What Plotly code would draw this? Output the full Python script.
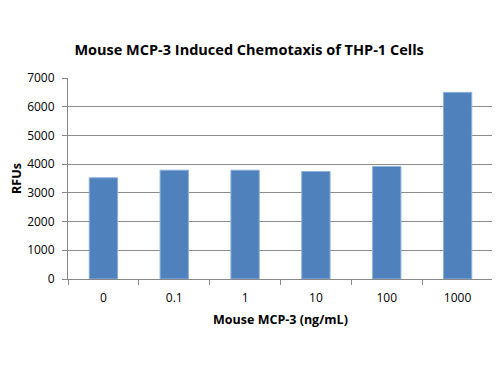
import plotly.graph_objects as go

categories = ["0", "0.1", "1", "10", "100", "1000"]
rfus = [3525, 3790, 3790, 3745, 3920, 6500]
y_ticks = [0, 1000, 2000, 3000, 4000, 5000, 6000, 7000]

fig = go.Figure()
fig.add_trace(go.Bar(
    x=categories, y=rfus,
    marker=dict(color="#4F81BD", line=dict(color="#8DB0DB", width=1)),
    width=0.4,
))

fig.update_layout(
    width=492, height=367,
    margin=dict(l=60, r=7, t=70, b=96, autoexpand=False),
    paper_bgcolor="white", plot_bgcolor="white",
    showlegend=False,
    font=dict(family="Open Sans, Liberation Sans, sans-serif", color="#000000", size=12),
    title=dict(
        text="<b>Mouse MCP-3 Induced Chemotaxis of THP-1 Cells</b>",
        xref="container", x=0.49, xanchor="center",
        yref="container", y=0.886, yanchor="middle",
        font=dict(size=14.5, color="#000000"),
        automargin=False,
    ),
    xaxis=dict(
        type="category", automargin=False,
        showline=True, linecolor="#888888", linewidth=1,
        ticks="outside", ticklen=5, tickcolor="#888888",
        tickson="boundaries",
        ticklabelstandoff=8,
        showgrid=False,
        tickfont=dict(size=12),
        title=dict(text="<b>Mouse MCP-3 (ng/mL)</b>", font=dict(size=12.5), standoff=9),
    ),
    yaxis=dict(
        range=[0, 7000], automargin=False,
        tickvals=y_ticks,
        showline=True, linecolor="#888888", linewidth=1,
        ticks="outside", ticklen=5, tickcolor="#888888",
        ticklabelstandoff=5,
        showgrid=True, gridcolor="#8C8C8C", gridwidth=1,
        zeroline=False,
        tickfont=dict(size=12),
        title=dict(text="<b>RFUs</b>", font=dict(size=12.5), standoff=8),
    ),
)

fig.write_html("out.html")
